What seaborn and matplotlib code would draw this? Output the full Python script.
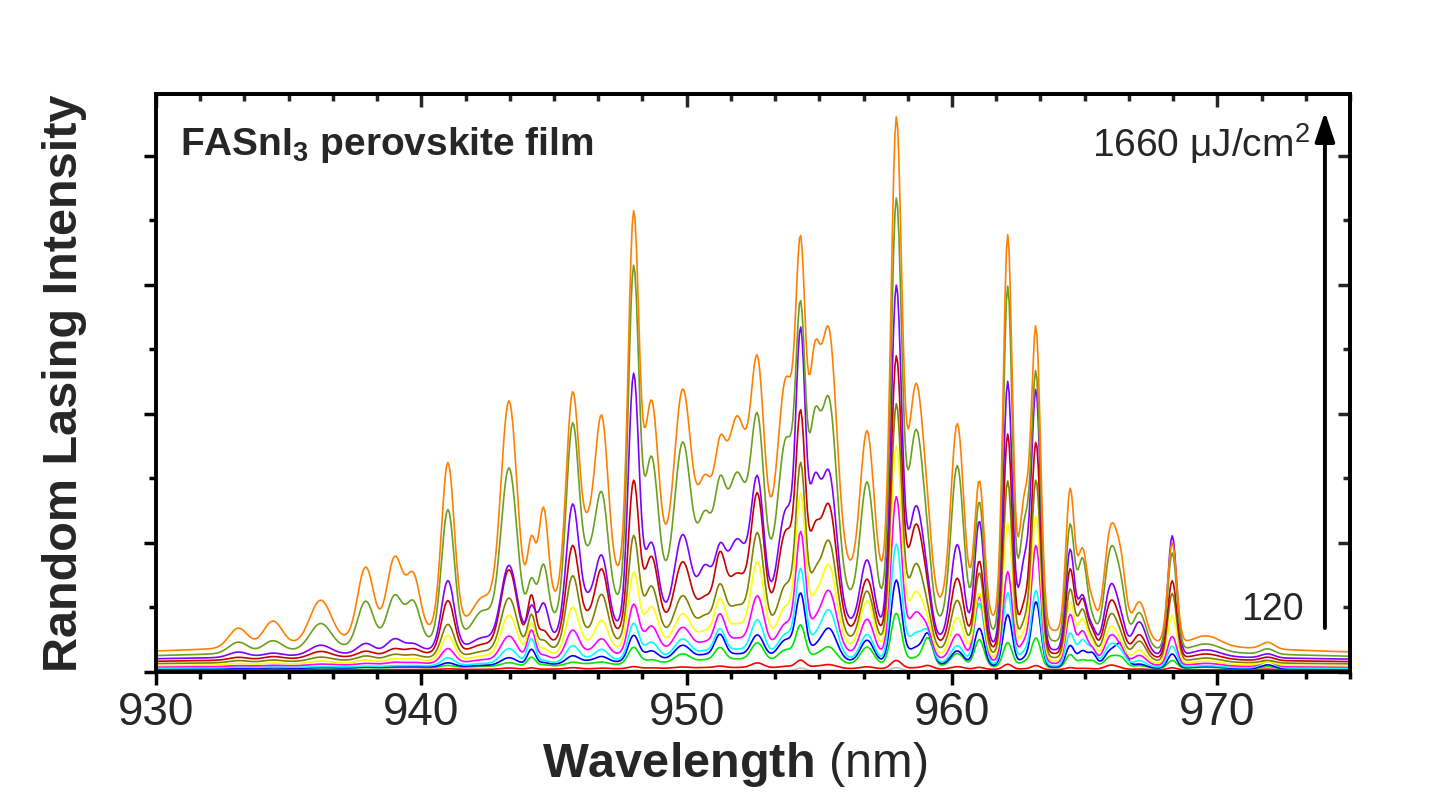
import numpy as np
import pandas as pd
import seaborn as sns
import matplotlib.pyplot as plt
from matplotlib.ticker import MultipleLocator, AutoMinorLocator

# lasing mode positions (nm) and widths (nm)
peak_nm = [933.1, 934.4, 936.2, 937.9, 939.0, 939.7, 941.0, 942.3, 943.3, 944.15,
           944.6, 945.7, 946.3, 946.8, 948.0, 948.67, 949.85, 950.7, 951.25, 951.9,
           952.67, 953.75, 954.3, 954.8, 955.35, 956.8, 957.9, 958.65, 959.1, 960.2,
           961.03, 962.1, 962.73, 963.17, 964.45, 964.92, 965.3, 966.0, 966.4, 967.06,
           968.3, 969.6, 971.9]
peak_sd = [0.35, 0.35, 0.4, 0.3, 0.3, 0.25, 0.24, 0.35, 0.3, 0.15,
           0.18, 0.24, 0.25, 0.24, 0.2, 0.25, 0.3, 0.25, 0.2, 0.35,
           0.24, 0.3, 0.18, 0.2, 0.3, 0.25, 0.2, 0.3, 0.18, 0.24,
           0.18, 0.17, 0.2, 0.17, 0.16, 0.18, 0.15, 0.25, 0.18, 0.25,
           0.17, 0.5, 0.25]

# broad emission background under the modes
hump_nm = 952.0
hump_hw = 7.0

# peak heights for each pump fluence (lowest to highest)
gray_pk = [0, 0, 0, 0, 0, 0, 0, 0, 0, 0, 0, 0, 0, 0, 0.01, 0, 0, 0, 0, 0,
           0.01, 0, 0.04, 0, 0.01, 0, 0.05, 0, 0.01, 0, 0, 0.01, 0, 0.01, 0, 0, 0, 0, 0, 0,
           0, 0, 0]
red_pk = [0.0, 0.0, 0.0, 0.0, 0.0, 0.0, 0.01, 0.0, 0.02, 0.02, 0.0, 0.02, 0.0, 0.01, 0.03,
          0.01, 0.02, 0.01, 0.03, 0.01, 0.08, 0.03, 0.12, 0.02, 0.06, 0.03, 0.13, 0.02, 0.05,
          0.04, 0.03, 0.08, 0.01, 0.06, 0.03, 0.02, 0.01, 0.07, 0.01, 0.01, 0.03, 0.0, 0.01]
green_pk = [0.01, 0.01, 0.01, 0.01, 0.01, 0.01, 0.03, 0.01, 0.06, 0.14, 0.02, 0.05, 0.02,
            0.04, 0.26, 0.06, 0.14, 0.04, 0.22, 0.05, 0.30, 0.20, 0.55, 0.08, 0.26, 0.27,
            0.80, 0.12, 0.40, 0.20, 0.42, 0.38, 0.08, 0.45, 0.20, 0.12, 0.10, 0.18, 0.12,
            0.04, 0.12, 0.02, 0.03]
blue_pk = [0.01, 0.01, 0.01, 0.01, 0.01, 0.01, 0.06, 0.01, 0.12, 0.24, 0.03, 0.12, 0.03,
           0.09, 0.40, 0.15, 0.22, 0.06, 0.36, 0.07, 0.36, 0.30, 0.97, 0.12, 0.50, 0.34,
           1.28, 0.25, 0.40, 0.22, 0.58, 0.80, 0.12, 1.00, 0.33, 0.25, 0.20, 0.27, 0.30,
           0.06, 0.22, 0.03, 0.06]
cyan_pk = [0.01, 0.01, 0.01, 0.01, 0.01, 0.01, 0.12, 0.02, 0.24, 0.38, 0.04, 0.25, 0.04,
           0.17, 0.55, 0.25, 0.28, 0.08, 0.40, 0.10, 0.55, 0.35, 1.30, 0.20, 0.75, 0.40,
           1.80, 0.45, 0.35, 0.28, 0.95, 1.12, 0.20, 1.15, 0.50, 0.40, 0.25, 0.35, 0.15,
           0.10, 0.33, 0.03, 0.10]
magenta_pk = [0.01, 0.01, 0.02, 0.02, 0.03, 0.02, 0.22, 0.03, 0.38, 0.45, 0.06, 0.42, 0.06,
              0.25, 0.75, 0.40, 0.35, 0.10, 0.50, 0.15, 0.80, 0.40, 1.75, 0.30, 0.95, 0.55,
              2.45, 0.70, 0.25, 0.40, 1.00, 1.40, 0.30, 1.80, 0.75, 0.50, 0.20, 0.45, 0.15,
              0.15, 0.45, 0.04, 0.08]
yellow_pk = [0.02, 0.02, 0.04, 0.04, 0.05, 0.04, 0.38, 0.04, 0.65, 0.50, 0.10, 0.70, 0.10,
             0.45, 1.15, 0.60, 0.45, 0.15, 0.60, 0.25, 1.20, 0.55, 2.20, 0.50, 1.25, 0.75,
             3.15, 0.95, 0.25, 0.60, 1.00, 2.10, 0.40, 2.20, 0.90, 0.65, 0.25, 0.55, 0.15,
             0.20, 0.75, 0.05, 0.05]
dkyellow_pk = [0.03, 0.03, 0.06, 0.06, 0.07, 0.05, 0.50, 0.05, 0.85, 0.55, 0.15, 1.10, 0.15,
               0.75, 1.60, 0.80, 0.60, 0.25, 0.65, 0.40, 1.50, 0.75, 2.50, 0.70, 1.50, 0.80,
               3.70, 1.30, 0.25, 0.80, 1.25, 2.70, 0.50, 2.70, 1.05, 0.75, 0.25, 0.70, 0.20,
               0.30, 1.05, 0.06, 0.04]
dkred_pk = [0.04, 0.04, 0.10, 0.08, 0.10, 0.08, 0.80, 0.08, 1.20, 0.75, 0.20, 1.45, 0.25,
            1.00, 2.30, 1.10, 0.95, 0.35, 0.90, 0.70, 1.90, 1.40, 3.00, 1.15, 1.90, 0.85,
            4.30, 1.80, 0.30, 1.05, 1.35, 3.35, 0.70, 3.20, 1.30, 0.85, 0.30, 0.85, 0.25,
            0.35, 1.20, 0.08, 0.05]
purple_pk = [0.08, 0.05, 0.15, 0.15, 0.20, 0.10, 1.05, 0.12, 1.20, 0.50, 0.55, 2.00, 0.40,
             1.10, 3.85, 1.20, 1.25, 0.70, 0.80, 1.10, 2.00, 1.60, 4.10, 1.70, 2.30, 1.05,
             5.30, 2.00, 0.30, 1.50, 1.90, 4.10, 1.30, 3.90, 1.55, 0.85, 0.30, 1.05, 0.30,
             0.50, 1.85, 0.10, 0.06]
olive_pk = [0.17, 0.17, 0.40, 0.70, 0.75, 0.60, 2.00, 0.35, 2.50, 0.65, 0.90, 2.95, 0.70,
            1.70, 5.10, 2.10, 2.20, 1.00, 1.20, 1.60, 2.40, 2.20, 3.90, 2.10, 3.00, 1.90,
            6.30, 2.90, 0.40, 2.50, 2.00, 5.40, 1.70, 4.00, 1.80, 1.30, 0.30, 1.50, 0.60,
            0.55, 1.50, 0.12, 0.08]
orange_pk = [0.30, 0.38, 0.65, 1.10, 1.20, 0.85, 2.55, 0.35, 3.30, 1.00, 1.50, 3.10, 0.80,
             2.50, 5.50, 2.50, 2.50, 1.00, 1.20, 1.90, 2.70, 2.60, 4.30, 2.50, 3.60, 2.30,
             7.20, 3.30, 0.50, 2.90, 2.10, 6.00, 1.90, 4.50, 2.20, 1.30, 0.40, 1.70, 0.80,
             0.60, 1.55, 0.15, 0.10]

curve_names = ['gray', 'red', 'green', 'blue', 'cyan', 'magenta', 'yellow',
               'dark yellow', 'dark red', 'purple', 'olive', 'orange']
curve_peaks = [gray_pk, red_pk, green_pk, blue_pk, cyan_pk, magenta_pk, yellow_pk,
               dkyellow_pk, dkred_pk, purple_pk, olive_pk, orange_pk]
base_level = [0.01, 0.03, 0.04, 0.03, 0.04, 0.05, 0.06, 0.08, 0.10, 0.13, 0.13, 0.15]
hump_level = [0.01, 0.03, 0.11, 0.18, 0.21, 0.32, 0.43, 0.55, 0.72, 0.82, 1.35, 1.90]
curve_colors = ['#C0C0C0', '#FF0000', '#00E800', '#0000FF', '#00FFFF', '#FF00FF', '#FFFF00',
                '#808000', '#C80000', '#8000FF', '#6B9F1F', '#FF8000']

wl = np.arange(930.0, 975.001, 0.05)


def lorentz(x, c, w):
    return w ** 2 / ((x - c) ** 2 + w ** 2)


def gauss(x, c, s):
    return np.exp(-0.5 * ((x - c) / s) ** 2)


def spectrum(peaks, base, hump):
    y = base + hump * lorentz(wl, hump_nm, hump_hw)
    for c, s, a in zip(peak_nm, peak_sd, peaks):
        y = y + a * gauss(wl, c, s)
    return y


frames = []
for name, pk, b, h in zip(curve_names, curve_peaks, base_level, hump_level):
    frames.append(pd.DataFrame({'wl': wl, 'I': spectrum(pk, b, h), 'curve': name}))
df = pd.concat(frames, ignore_index=True)

sns.set_style('ticks')
plt.rcParams['font.family'] = ['Liberation Sans', 'DejaVu Sans']
plt.rcParams['mathtext.fontset'] = 'custom'
plt.rcParams['mathtext.rm'] = 'Liberation Sans'
plt.rcParams['mathtext.bf'] = 'Liberation Sans:bold'
plt.rcParams['mathtext.it'] = 'Liberation Sans:italic'

fig = plt.figure(figsize=(14.38, 8.10), dpi=100)
ax = fig.add_axes([0.1085, 0.1704, 0.8303, 0.7136])

sns.lineplot(data=df, x='wl', y='I', hue='curve', hue_order=curve_names,
             palette=curve_colors, lw=1.2, legend=False, estimator=None,
             sort=False, ax=ax)

ax.set_xlim(930, 975)
ax.set_ylim(0, 8.96)
for s in ax.spines.values():
    s.set_linewidth(2.8)
    s.set_color('black')

ax.xaxis.set_major_locator(MultipleLocator(10))
ax.xaxis.set_minor_locator(AutoMinorLocator(6))
ax.yaxis.set_major_locator(MultipleLocator(2))
ax.yaxis.set_minor_locator(MultipleLocator(1))
ax.set_yticklabels([])
ax.tick_params(which='both', direction='out', width=2.5, color='black')
ax.tick_params(which='major', length=9, labelsize=33, pad=5)
ax.tick_params(which='minor', length=5)

# mirrored axes with inward ticks (top and right)
secx = ax.secondary_xaxis('top')
secx.xaxis.set_major_locator(MultipleLocator(10))
secx.xaxis.set_minor_locator(AutoMinorLocator(6))
secx.tick_params(which='both', direction='in', width=2.5, labeltop=False)
secx.tick_params(which='major', length=9)
secx.tick_params(which='minor', length=5)
secx.spines['top'].set_linewidth(2.8)

secy = ax.secondary_yaxis('right')
secy.yaxis.set_major_locator(MultipleLocator(2))
secy.yaxis.set_minor_locator(MultipleLocator(1))
secy.tick_params(which='both', direction='in', width=2.5, labelright=False)
secy.tick_params(which='major', length=9)
secy.tick_params(which='minor', length=5)
secy.spines['right'].set_linewidth(2.8)

ax.set_xlabel(r'$\mathbf{Wavelength}$ (nm)', fontsize=35)
ax.xaxis.set_label_coords(0.4845, -0.118)
ax.set_ylabel('Random Lasing Intensity', fontsize=35, fontweight='bold')
ax.yaxis.set_label_coords(-0.058, 0.5)

ax.text(0.02, 0.894, r'FASnI$_\mathbf{3}$ perovskite film', transform=ax.transAxes,
        fontsize=28, fontweight='bold', va='baseline', ha='left')
ax.text(0.966, 0.891, r'1660 μJ/cm$^2$', transform=ax.transAxes,
        fontsize=28, va='baseline', ha='right')
ax.text(0.961, 0.09, '120', transform=ax.transAxes,
        fontsize=27, va='baseline', ha='right')
ax.annotate('', xy=(0.979, 0.969), xytext=(0.979, 0.076), xycoords='axes fraction',
            arrowprops=dict(arrowstyle='-|>,head_length=0.9,head_width=0.3',
                            mutation_scale=20, lw=2.8, color='black',
                            shrinkA=0, shrinkB=0))

fig.savefig('out.png', dpi=100)
